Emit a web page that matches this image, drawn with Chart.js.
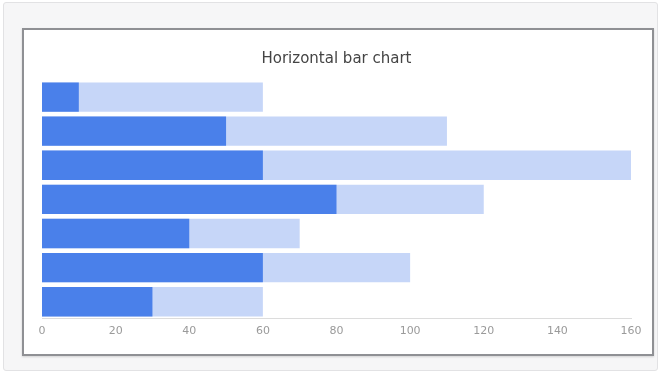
<!DOCTYPE html>
<html>
<head>
<meta charset="utf-8">
<script src="https://cdn.jsdelivr.net/npm/chart.js@4"></script>
<style>
  html, body { margin: 0; padding: 0; background: #ffffff; }
  body { width: 664px; height: 378px; position: relative; overflow: hidden; }
  .card {
    position: absolute; left: 3px; top: 2px; width: 655px; height: 369px;
    background: #f6f6f7; border: 1px solid #e2e2e4; border-radius: 3px; box-sizing: border-box;
  }
  .frame {
    position: absolute; left: 22px; top: 28px; width: 632px; height: 328px;
    background: #ffffff; border: 2px solid #8f9094; box-sizing: border-box;
    box-shadow: 0 1px 2px rgba(0,0,0,0.15);
  }
  .frame canvas { position: absolute; left: 0; top: 0; }
</style>
</head>
<body>
<div class="card"></div>
<div class="frame"><canvas id="chart" width="628" height="324"></canvas></div>
<script>
const categories = ['A', 'B', 'C', 'D', 'E', 'F', 'G'];
const darkValues = [10, 50, 60, 80, 40, 60, 30];
const lightValues = [60, 110, 160, 120, 70, 100, 60];
const xTickMax = 160;
const xTickStep = 20;

new Chart(document.getElementById('chart'), {
  type: 'bar',
  data: {
    labels: categories,
    datasets: [
      {
        data: darkValues,
        backgroundColor: '#4a80ea',
        grouped: false,
        barPercentage: 0.86,
        categoryPercentage: 1.0
      },
      {
        data: lightValues,
        backgroundColor: '#c6d6f8',
        grouped: false,
        barPercentage: 0.86,
        categoryPercentage: 1.0
      }
    ]
  },
  options: {
    indexAxis: 'y',
    responsive: false,
    animation: false,
    layout: { padding: { left: 18, right: 21, top: 12, bottom: 10 } },
    plugins: {
      legend: { display: false },
      tooltip: { enabled: false },
      title: {
        display: true,
        text: 'Horizontal bar chart',
        color: '#444444',
        font: { family: 'DejaVu Sans, Arial, sans-serif', size: 15, weight: 'normal' },
        padding: { top: 8, bottom: 12 }
      }
    },
    scales: {
      x: {
        min: 0,
        max: xTickMax,
        ticks: {
          stepSize: xTickStep,
          color: '#9a9a9a',
          font: { family: 'DejaVu Sans, Arial, sans-serif', size: 11 },
          padding: 6
        },
        grid: { display: false, drawTicks: false },
        border: { display: true, color: '#dcdcdc', width: 1 }
      },
      y: {
        display: false
      }
    }
  }
});
</script>
</body>
</html>
